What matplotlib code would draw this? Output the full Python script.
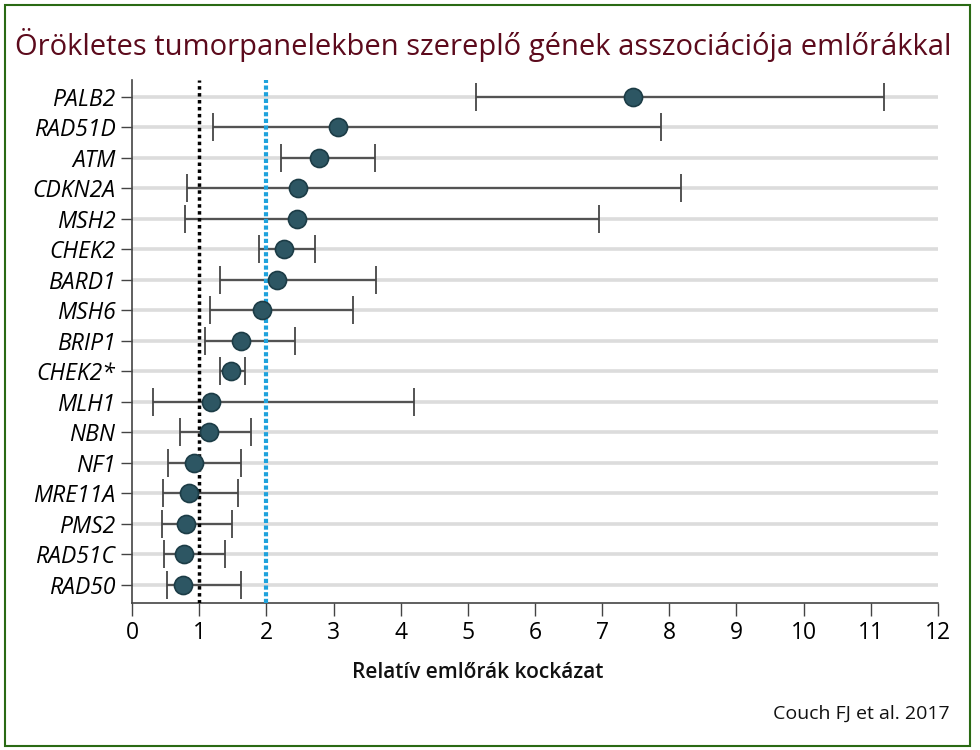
import matplotlib.pyplot as plt
import numpy as np

# data (Couch FJ et al. 2017)
genes = ['PALB2', 'RAD51D', 'ATM', 'CDKN2A', 'MSH2', 'CHEK2', 'BARD1', 'MSH6',
         'BRIP1', 'CHEK2*', 'MLH1', 'NBN', 'NF1', 'MRE11A', 'PMS2', 'RAD51C', 'RAD50']
risk = [7.46, 3.07, 2.78, 2.47, 2.46, 2.26, 2.16, 1.93,
        1.63, 1.48, 1.17, 1.14, 0.93, 0.85, 0.81, 0.78, 0.76]
low = [5.12, 1.21, 2.22, 0.82, 0.79, 1.89, 1.31, 1.16,
       1.09, 1.31, 0.31, 0.72, 0.54, 0.46, 0.44, 0.47, 0.52]
high = [11.19, 7.88, 3.62, 8.18, 6.95, 2.72, 3.64, 3.29,
        2.43, 1.68, 4.20, 1.77, 1.63, 1.58, 1.49, 1.38, 1.63]

plt.rcParams['font.family'] = ['Open Sans', 'DejaVu Sans']

fig = plt.figure(figsize=(9.8, 7.5), dpi=100)
ax = fig.add_axes([132 / 980, 1 - 603 / 750, 806 / 980, 523 / 750])

y = np.arange(len(genes))
risk = np.array(risk)
low = np.array(low)
high = np.array(high)

# light row lines
for yi in y:
    ax.plot([0, 12], [yi, yi], color='#dcdcdc', lw=2.6, zorder=1, solid_capstyle='butt')

ax.errorbar(risk, y, xerr=[risk - low, high - risk], fmt='none',
            ecolor='#454545', elinewidth=1.3, capsize=10, capthick=1.3, zorder=2)

ax.axvline(1, color='black', lw=2.5, ls=(0, (1, 1)), zorder=3)
ax.axvline(2, color='#1ea2dc', lw=3, ls=(0, (1, 0.6)), zorder=3)

ax.plot(risk, y, 'o', ms=13, mfc='#2d5663', mec='#1c3c46', mew=1.2, zorder=4)

ax.set_xlim(0, 12)
ax.set_ylim(16.6, -0.55)
ax.set_xticks(range(13))
ax.set_yticks(y)
ax.set_yticklabels(genes, style='italic', fontsize=16.5)
ax.tick_params(axis='x', labelsize=16.5, length=9, width=1, color='#444444', pad=4)
ax.tick_params(axis='y', length=8, width=1, color='#444444', pad=4)

for s in ['top', 'right']:
    ax.spines[s].set_visible(False)
for s in ['left', 'bottom']:
    ax.spines[s].set_color('#444444')
    ax.spines[s].set_linewidth(1.2)

fig.text(15 / 980, 1 - 45 / 750, 'Örökletes tumorpanelekben szereplő gének asszociációja emlőrákkal',
         color='#5c0a1c', fontsize=21, fontweight='medium', va='center', ha='left')
fig.text(478 / 980, 1 - 672 / 750, 'Relatív emlőrák kockázat', fontsize=15,
         fontweight='semibold', ha='center', va='center', color='#111111')
fig.text(950 / 980, 1 - 714 / 750, 'Couch FJ et al. 2017', fontsize=14,
         ha='right', va='center', color='#111111')

# green frame
fig.patches.append(plt.Rectangle((5 / 980, 4 / 750), 965 / 980, 741 / 750,
                                 transform=fig.transFigure, fill=False,
                                 edgecolor='#2a6a14', lw=1.5))

fig.savefig('out.png', dpi=100)
